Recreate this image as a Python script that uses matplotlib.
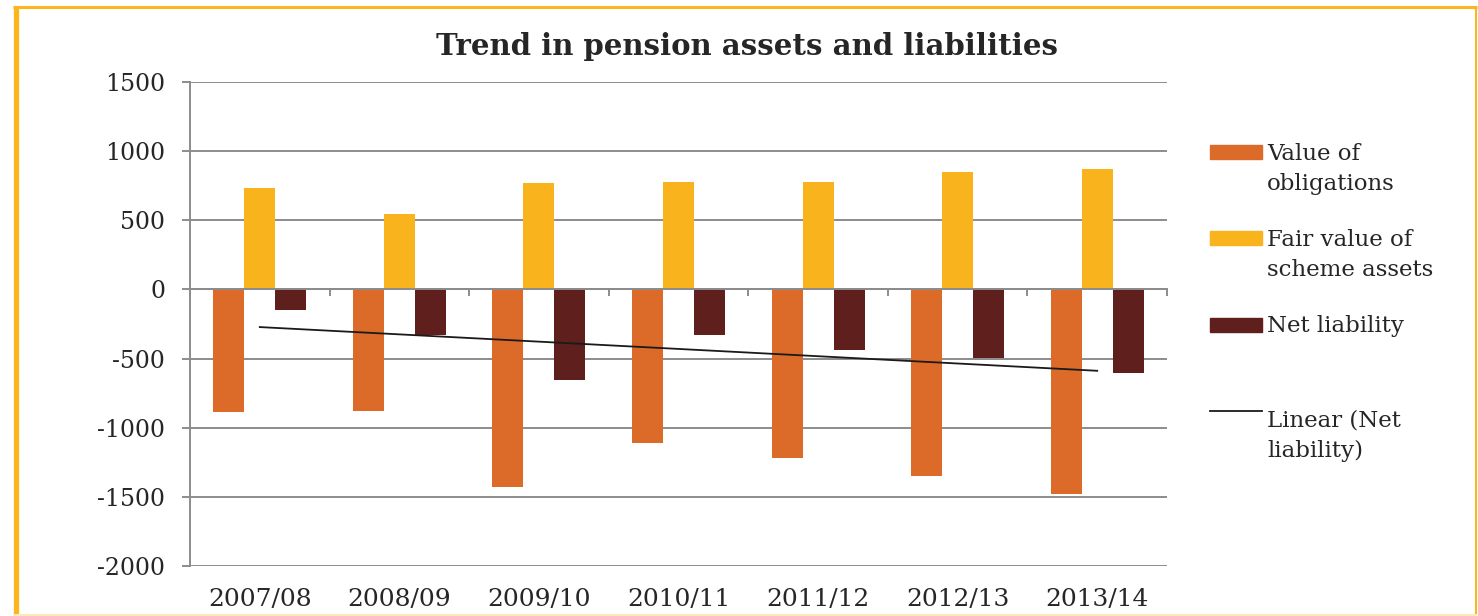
import numpy as np
import matplotlib.pyplot as plt
from matplotlib.patches import Rectangle
from matplotlib.lines import Line2D

years = ['2007/08', '2008/09', '2009/10', '2010/11', '2011/12', '2012/13', '2013/14']
obligations = [-887, -880, -1428, -1111, -1219, -1349, -1479]
scheme_assets = [736, 548, 772, 779, 779, 851, 873]
net_liability = [-151, -332, -656, -332, -440, -495, -606]

c_obl = '#DC6A29'
c_ass = '#F9B31C'
c_net = '#5F1F1C'
grey = '#8C8C8E'
txt = '#262626'
gold = '#FBB61E'

plt.rcParams['font.family'] = 'DejaVu Serif'
plt.rcParams['font.size'] = 17
plt.rcParams['axes.unicode_minus'] = False

W, H = 1478, 616
fig = plt.figure(figsize=(W / 100, H / 100), dpi=100)

def fx(px):
    return px / W

def fy(py):
    return 1 - py / H

ax = fig.add_axes([fx(190), fy(566), (1167 - 190) / W, (566 - 82) / H])

x = np.arange(len(years))
w = 1 / 4.5
ax.bar(x - w, obligations, w, color=c_obl, zorder=2)
ax.bar(x, scheme_assets, w, color=c_ass, zorder=2)
ax.bar(x + w, net_liability, w, color=c_net, zorder=2)

# linear trendline of net liability (as Excel does)
coef = np.polyfit(x, net_liability, 1)
ax.plot(x, np.polyval(coef, x), color='#1a1a1a', lw=1.3, zorder=3)

ax.set_xlim(-0.5, len(years) - 0.5)
ax.set_ylim(-2000, 1500)
ax.set_yticks(range(-2000, 1501, 500))
ax.yaxis.grid(True, color=grey, lw=1.4)
ax.set_axisbelow(True)

for s in ['top', 'right']:
    ax.spines[s].set_visible(False)
ax.spines['left'].set_color(grey)
ax.spines['left'].set_linewidth(1.4)
ax.spines['bottom'].set_position(('data', 0))
ax.spines['bottom'].set_color(grey)
ax.spines['bottom'].set_linewidth(1.4)

ax.set_xticks(np.arange(-0.5, len(years), 1))
ax.tick_params(axis='x', length=5, width=1.4, color=grey, labelbottom=False)
ax.tick_params(axis='y', length=5.8, width=1.4, color=grey, pad=12, labelcolor=txt)

sec = ax.secondary_xaxis(0)
sec.set_xticks(x, labels=years)
sec.tick_params(length=0, pad=16, labelcolor=txt, labelsize=18)
sec.spines['bottom'].set_visible(False)

fig.text(fx(747), fy(55), 'Trend in pension assets and liabilities', ha='center',
         va='baseline', fontsize=21, fontweight='bold', color=txt)

# legend drawn by hand to keep the first line beside the key
entries = [
    ('patch', c_obl, 145, ['Value of', 'obligations'], 160),
    ('patch', c_ass, 231, ['Fair value of', 'scheme assets'], 246),
    ('patch', c_net, 318, ['Net liability'], 332),
    ('line', '#1a1a1a', 411, ['Linear (Net', 'liability)'], 427),
]
for kind, col, ky, lines, base in entries:
    if kind == 'patch':
        fig.add_artist(Rectangle((fx(1210), fy(ky + 14)), 52 / W, 14 / H,
                                 color=col, transform=fig.transFigure))
    else:
        fig.add_artist(Line2D([fx(1210), fx(1262)], [fy(ky), fy(ky)], color=col,
                              lw=1.3, transform=fig.transFigure))
    for i, t in enumerate(lines):
        fig.text(fx(1267), fy(base + 30 * i), t, ha='left', va='baseline',
                 color=txt, fontsize=16.5)

# golden frame around the chart
fig.add_artist(Line2D([fx(13), fx(1477)], [fy(7), fy(7)], color=gold, lw=2.2,
                      transform=fig.transFigure, solid_capstyle='butt'))
fig.add_artist(Line2D([fx(15.5), fx(15.5)], [fy(6), fy(616)], color=gold, lw=3.8,
                      transform=fig.transFigure, solid_capstyle='butt'))
fig.add_artist(Line2D([fx(1475.5), fx(1475.5)], [fy(6), fy(616)], color=gold, lw=1.5,
                      transform=fig.transFigure, solid_capstyle='butt'))
fig.add_artist(Line2D([fx(13), fx(1477)], [fy(614.5), fy(614.5)], color='#FBE9B8', lw=1.5,
                      transform=fig.transFigure, solid_capstyle='butt'))

fig.savefig('out.png', dpi=100, facecolor='white')
